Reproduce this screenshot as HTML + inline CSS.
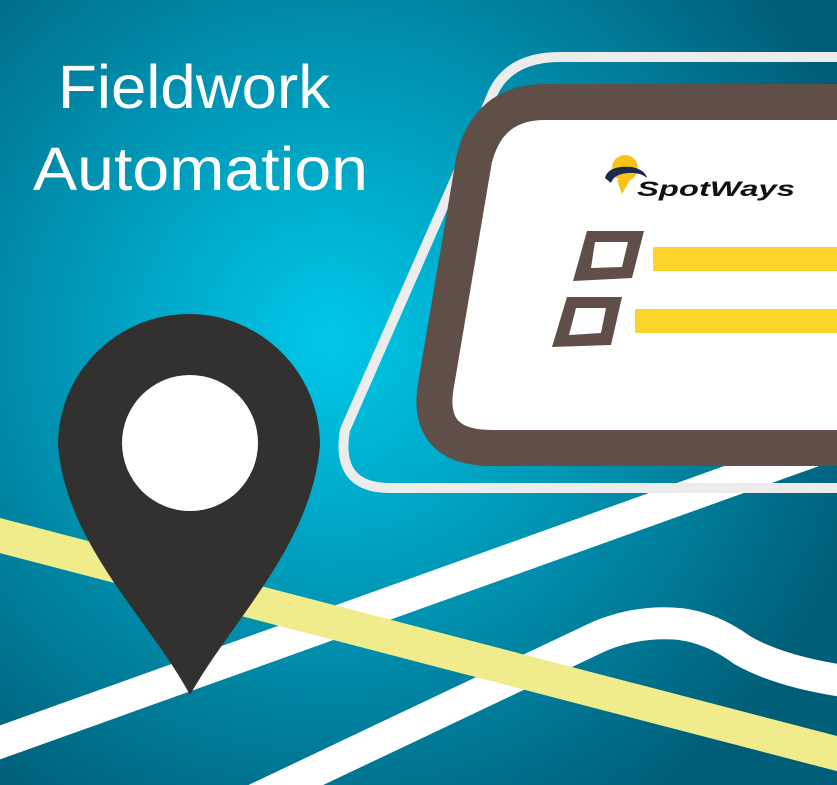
<!DOCTYPE html>
<html><head><meta charset="utf-8"><style>html,body{margin:0;padding:0;overflow:hidden}svg{display:block}</style></head>
<body>
<svg width="837" height="785" viewBox="0 0 837 785" xmlns="http://www.w3.org/2000/svg">
<defs>
<radialGradient id="bg" cx="330" cy="340" r="560" gradientUnits="userSpaceOnUse">
<stop offset="0" stop-color="#00c8ea"/>
<stop offset="0.45" stop-color="#0099b8"/>
<stop offset="1" stop-color="#005d78"/>
</radialGradient>
</defs>
<rect width="837" height="785" fill="url(#bg)"/>
<!-- roads -->
<path d="M-10,746 L850,438" stroke="#fff" stroke-width="32" fill="none"/>
<path d="M250,802 L600,636 Q640,620 680,624 Q712,628 742,650 Q780,672 850,682" stroke="#fff" stroke-width="32" fill="none"/>
<path d="M-10,533 L850,757" stroke="#f0ec8c" stroke-width="34" fill="none"/>
<!-- outer light line -->
<path d="M850,57 L560,57 Q505,57 490,100 L345,430 Q335,488 390,488 L850,488" stroke="#ececec" stroke-width="10" fill="none"/>
<!-- panel -->
<path d="M850,102 L545,102 Q488,102 474,160 L436,385 Q425,448 492,448 L850,448 Z" fill="#fff"/>
<path d="M850,102 L545,102 Q488,102 474,160 L436,385 Q425,448 492,448 L850,448" stroke="#604f49" stroke-width="36" fill="none"/>
<!-- checkboxes -->
<path fill="#604f49" fill-rule="evenodd" d="M587,231 L644,231 L632,278 L573,281 Z M595,242 L628,242 L622,267 L591,268 Z"/>
<path fill="#604f49" fill-rule="evenodd" d="M567,297 L622,297 L611,345 L552,347 Z M576,308 L606,308 L601,333 L569,335 Z"/>
<rect x="653" y="247" width="190" height="24" fill="#fdd52a"/>
<rect x="635" y="309" width="210" height="24" fill="#fdd52a"/>
<!-- logo -->
<circle cx="625" cy="168" r="13" fill="#f7c21a"/>
<path d="M605,178 Q608,165 632,167 Q645,170 647,178 Q640,172 628,173 Q614,174 611,183 Z" fill="#1a2a4a"/>
<path d="M617,180 L630,180 L622,194 Z" fill="#f7c21a"/>
<text x="637" y="196" font-family="Liberation Sans, sans-serif" font-weight="bold" font-style="italic" font-size="21" fill="#111" textLength="158" lengthAdjust="spacingAndGlyphs">SpotWays</text>
<!-- pin -->
<path d="M58,445 A131,131 0 1 1 320,445 C312,545 232,620 190,695 C150,620 66,545 58,445 Z" fill="#333130"/>
<circle cx="190" cy="443" r="68" fill="#fff"/>
<!-- title -->
<text x="58" y="108" font-family="Liberation Sans, sans-serif" font-size="61" fill="#fff" textLength="272" lengthAdjust="spacingAndGlyphs">Fieldwork</text>
<text x="33" y="190" font-family="Liberation Sans, sans-serif" font-size="61" fill="#fff" textLength="335" lengthAdjust="spacingAndGlyphs">Automation</text>
</svg>
</body></html>
